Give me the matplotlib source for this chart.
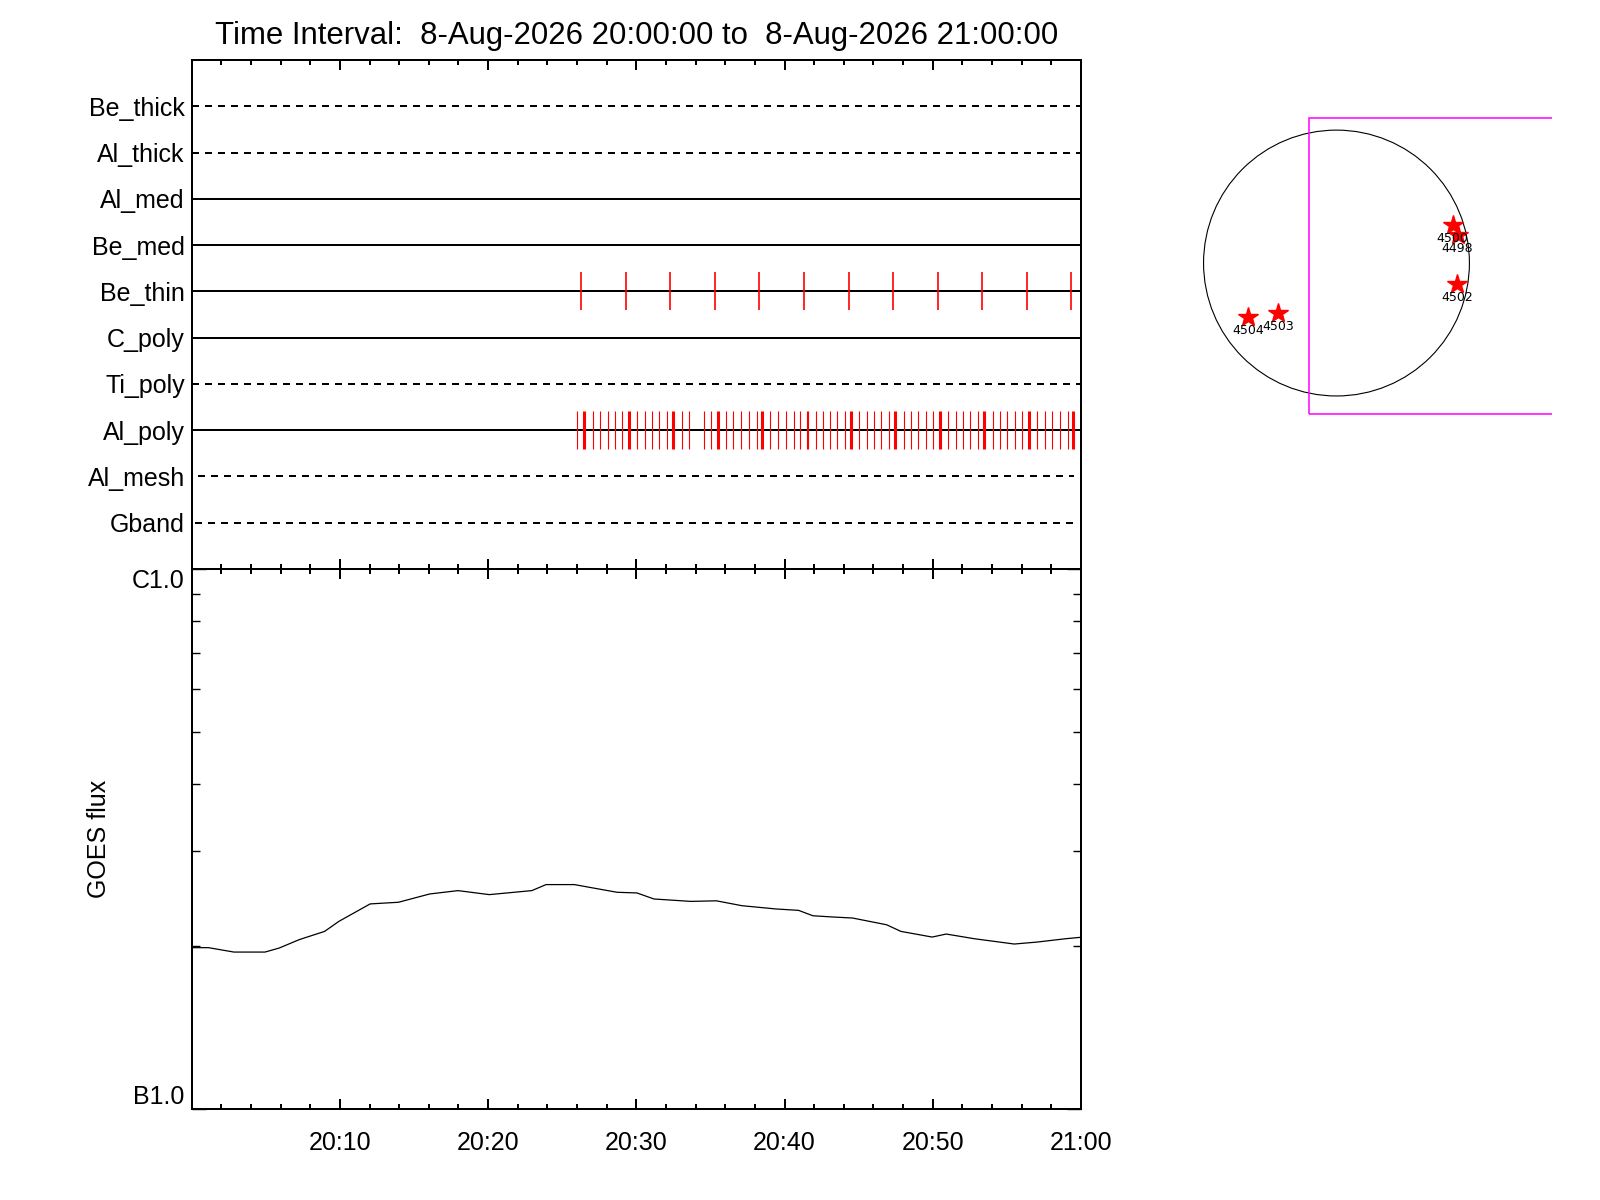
import matplotlib
matplotlib.use("Agg")
import matplotlib.pyplot as plt
import numpy as np
from matplotlib.ticker import FixedLocator, NullFormatter
from matplotlib.patches import Circle, Rectangle

plt.rcParams['font.family'] = ['Liberation Sans', 'DejaVu Sans']

title = "Time Interval:  8-Aug-2026 20:00:00 to  8-Aug-2026 21:00:00"

# filter rows, top to bottom
filters = ['Be_thick', 'Al_thick', 'Al_med', 'Be_med', 'Be_thin',
           'C_poly', 'Ti_poly', 'Al_poly', 'Al_mesh', 'Gband']
dashed = [True, True, False, False, False, False, True, False, True, True]
row_start = [0, 0, 0, 0, 0, 0, 0, 0, 0.43, 0.2]      # minutes after 20:00
row_end = [60, 60, 60, 60, 60, 60, 60, 60, 59.5, 59.8]

# exposure times (minutes after 20:00)
be_thin_times = [26.27, 29.29, 32.28, 35.30, 38.30, 41.30,
                 44.32, 47.29, 50.36, 53.33, 56.37, 59.35]
al_poly_times = [26.02, 27.10, 27.57, 28.07, 28.58, 29.06, 30.07, 30.61, 31.08,
                 31.55, 32.09, 33.10, 33.58, 34.59, 35.06, 36.07, 36.55, 37.08,
                 37.58, 38.12, 39.04, 39.58, 40.08, 40.62, 41.07, 41.50, 41.61,
                 42.10, 42.58, 43.09, 43.56, 44.06, 45.05, 45.59, 46.06, 46.53,
                 47.07, 48.08, 48.56, 49.03, 49.57, 50.04, 51.05, 51.59, 52.06,
                 52.54, 53.08, 54.09, 54.56, 55.03, 55.57, 56.05, 57.06, 57.60,
                 58.07, 58.61, 59.15]
al_poly_double = [26.47, 29.53, 32.50, 35.53, 38.50, 44.51, 47.48,
                  50.51, 53.48, 56.52, 59.49]

# GOES flux (W/m^2)
goes_t = [0, 1.13, 2.85, 4.95, 5.91, 7.25, 8.97, 9.93, 12.04, 13.95, 16.06,
          17.97, 20.08, 22.95, 23.91, 25.82, 28.7, 30.04, 31.19, 33.68, 35.4,
          37.12, 39.42, 40.95, 41.91, 43.25, 44.59, 46.89, 47.85, 49.96,
          50.91, 52.82, 55.5, 57.04, 58.95, 60]
goes_flux = np.array([1.99, 1.99, 1.953, 1.953, 1.987, 2.059, 2.133, 2.226,
                      2.398, 2.415, 2.502, 2.538, 2.495, 2.538, 2.604, 2.604,
                      2.52, 2.513, 2.449, 2.424, 2.43, 2.38, 2.347, 2.333,
                      2.28, 2.268, 2.258, 2.194, 2.133, 2.082, 2.109, 2.067,
                      2.021, 2.038, 2.067, 2.08]) * 1e-7

xtick_minutes = [10, 20, 30, 40, 50, 60]
xtick_labels = ['20:10', '20:20', '20:30', '20:40', '20:50', '21:00']

# active regions on the disk (arcsec)
ar_names = ['4500', '4498', '4502', '4504', '4503']
ar_x = [840, 875, 869, -640, -419]
ar_y = [274, 200, -152, -392, -363]
sun_radius = 960
fov_x0, fov_y0, fov_y1 = -195, -1090, 1045

fig = plt.figure(figsize=(16, 12), dpi=100)
ax_top = fig.add_axes([0.1198, 0.5258, 0.5558, 0.4242])
ax_goes = fig.add_axes([0.1198, 0.0758, 0.5558, 0.45])
ax_sun = fig.add_axes([0.70, 0.6008, 0.2706, 0.36])

lw = 1.44
for ax in (ax_top, ax_goes):
    for s in ax.spines.values():
        s.set_linewidth(lw)
    ax.set_xlim(0, 60)
    ax.xaxis.set_major_locator(FixedLocator([0, 10, 20, 30, 40, 50, 60]))
    ax.xaxis.set_minor_locator(FixedLocator(np.arange(0, 61, 2)))
    ax.tick_params(axis='x', which='both', direction='in', top=True, bottom=True,
                   width=lw)
    ax.tick_params(axis='x', which='major', length=7.2)
    ax.tick_params(axis='x', which='minor', length=3.6)

# top panel
nrow = len(filters)
rows = np.arange(nrow, 0, -1)
ax_top.set_ylim(0, nrow + 1)
for i, name in enumerate(filters):
    ls = (0, (3.5, 3)) if dashed[i] else '-'
    ax_top.hlines(rows[i], row_start[i], row_end[i], colors='black',
                  linestyles=ls, linewidth=lw)
be_row = rows[filters.index('Be_thin')]
al_row = rows[filters.index('Al_poly')]
h = 0.41
ax_top.vlines(be_thin_times, be_row - h, be_row + h, colors='red', linewidth=1.2)
ax_top.vlines(al_poly_times, al_row - h, al_row + h, colors='red', linewidth=0.8)
ax_top.vlines(al_poly_double, al_row - h, al_row + h, colors='red', linewidth=2.2)
ax_top.set_yticks(rows)
ax_top.set_yticklabels(filters, fontsize=18)
ax_top.tick_params(axis='y', length=0, pad=5)
ax_top.xaxis.set_major_formatter(NullFormatter())
ax_top.set_title(title, fontsize=22.4, pad=11.5)

# GOES panel
ax_goes.semilogy(goes_t, goes_flux, color='black', linewidth=0.9)
ax_goes.set_ylim(1e-7, 1e-6)
ax_goes.set_yticks([1e-7, 1e-6])
ax_goes.set_yticklabels(['B1.0', 'C1.0'], fontsize=18)
ax_goes.yaxis.set_minor_locator(FixedLocator(np.arange(2, 10) * 1e-7))
ax_goes.yaxis.set_minor_formatter(NullFormatter())
ax_goes.tick_params(axis='y', which='both', direction='in', left=True,
                    right=True, width=1.0, pad=5)
ax_goes.tick_params(axis='y', which='major', length=10)
ax_goes.tick_params(axis='y', which='minor', length=6)
yl = ax_goes.get_yticklabels()
yl[0].set_verticalalignment('bottom')
yl[1].set_verticalalignment('top')
ax_goes.set_xticks(xtick_minutes)
ax_goes.set_xticklabels(xtick_labels, fontsize=18)
ax_goes.tick_params(axis='x', which='major', pad=16)
ax_goes.set_ylabel('GOES flux', fontsize=18, labelpad=15)

# solar disk
lim = 1560
ax_sun.set_xlim(-lim, lim)
ax_sun.set_ylim(-lim, lim)
ax_sun.set_aspect('equal')
ax_sun.axis('off')
ax_sun.add_patch(Circle((0, 0), sun_radius, fill=False, edgecolor='black',
                        linewidth=0.8))
ax_sun.add_patch(Rectangle((fov_x0, fov_y0), 4000, fov_y1 - fov_y0, fill=False,
                           edgecolor='magenta', linewidth=1.1, clip_on=True))
ax_sun.plot(ar_x, ar_y, linestyle='none', marker='*', markersize=15,
            color='red')
for name, x, y in zip(ar_names, ar_x, ar_y):
    ax_sun.annotate(name, (x, y), xytext=(0, -5), textcoords='offset points',
                    ha='center', va='top', fontsize=9, family='DejaVu Sans')

fig.savefig('out.png', dpi=100)
